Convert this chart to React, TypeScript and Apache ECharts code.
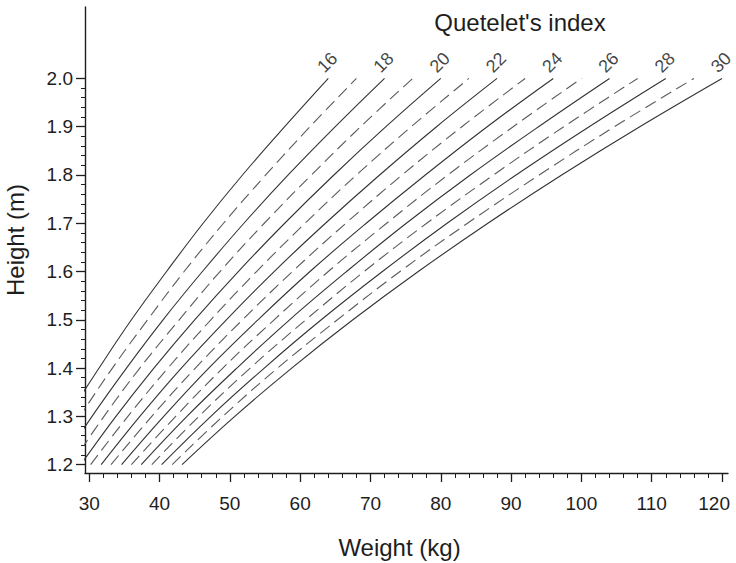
import React, { useEffect, useRef } from "react";
import * as echarts from "echarts";

// Heights (m) at which each Quetelet's-index curve is sampled
const heights = [1.2, 1.3, 1.4, 1.5, 1.6, 1.7, 1.8, 1.9, 2.0];

// Quetelet's index of each curve
const indexValues = [16, 17, 18, 19, 20, 21, 22, 23, 24, 25, 26, 27, 28, 29, 30];

// Weight (kg) of each curve at the heights above
const weightsByIndex: number[][] = [
  [23.0, 27.0, 31.4, 36.0, 41.0, 46.2, 51.8, 57.8, 64.0],
  [24.5, 28.7, 33.3, 38.3, 43.5, 49.1, 55.1, 61.4, 68.0],
  [25.9, 30.4, 35.3, 40.5, 46.1, 52.0, 58.3, 65.0, 72.0],
  [27.4, 32.1, 37.2, 42.8, 48.6, 54.9, 61.6, 68.6, 76.0],
  [28.8, 33.8, 39.2, 45.0, 51.2, 57.8, 64.8, 72.2, 80.0],
  [30.2, 35.5, 41.2, 47.3, 53.8, 60.7, 68.0, 75.8, 84.0],
  [31.7, 37.2, 43.1, 49.5, 56.3, 63.6, 71.3, 79.4, 88.0],
  [33.1, 38.9, 45.1, 51.8, 58.9, 66.5, 74.5, 83.0, 92.0],
  [34.6, 40.6, 47.0, 54.0, 61.4, 69.4, 77.8, 86.6, 96.0],
  [36.0, 42.3, 49.0, 56.3, 64.0, 72.3, 81.0, 90.3, 100.0],
  [37.4, 43.9, 51.0, 58.5, 66.6, 75.1, 84.2, 93.9, 104.0],
  [38.9, 45.6, 52.9, 60.8, 69.1, 78.0, 87.5, 97.5, 108.0],
  [40.3, 47.3, 54.9, 63.0, 71.7, 80.9, 90.7, 101.1, 112.0],
  [41.8, 49.0, 56.8, 65.3, 74.2, 83.8, 94.0, 104.7, 116.0],
  [43.2, 50.7, 58.8, 67.5, 76.8, 86.7, 97.2, 108.3, 120.0],
];

// Axis ticks and labels
const weightMajorTicks = [30, 40, 50, 60, 70, 80, 90, 100, 110, 120];
const weightMinorTicks = [
  32, 34, 36, 38, 42, 44, 46, 48, 52, 54, 56, 58, 62, 64, 66, 68, 72, 74, 76, 78,
  82, 84, 86, 88, 92, 94, 96, 98, 102, 104, 106, 108, 112, 114, 116, 118,
];
const heightMajorTicks = [1.2, 1.3, 1.4, 1.5, 1.6, 1.7, 1.8, 1.9, 2.0];
const heightMinorTicks = [
  1.22, 1.24, 1.26, 1.28, 1.32, 1.34, 1.36, 1.38, 1.42, 1.44, 1.46, 1.48,
  1.52, 1.54, 1.56, 1.58, 1.62, 1.64, 1.66, 1.68, 1.72, 1.74, 1.76, 1.78,
  1.82, 1.84, 1.86, 1.88, 1.92, 1.94, 1.96, 1.98,
];

const FONT = "'Liberation Sans', Arial, Helvetica, sans-serif";
const INK = "#1e1e1e";

const X_MIN = 29.4;
const X_MAX = 120.85;
const Y_MIN = 1.1826;
const Y_MAX = 2.148;

const GRID = { left: 85, right: 8, top: 7, bottom: 90 };
const LABEL_MARGIN_X = 21;
const LABEL_SIZE = 19;

function buildOption(): echarts.EChartsOption {
  const curveSeries = indexValues.map((q, i) => {
    const solid = q % 2 === 0;
    return {
      type: "line" as const,
      name: String(q),
      xAxisIndex: 0,
      yAxisIndex: 0,
      data: heights.map((h, j) => [weightsByIndex[i][j], h]),
      smooth: 0.4,
      showSymbol: false,
      symbol: "none",
      silent: true,
      clip: true,
      lineStyle: solid
        ? { color: "#333", width: 1.1, type: "solid" as const }
        : { color: "#5a5a5a", width: 1.1, type: [12, 6] },
      z: solid ? 3 : 2,
    };
  });

  const labelled = indexValues
    .map((q, i) => ({ q, i }))
    .filter(({ q }) => q % 2 === 0)
    .map(({ q, i }) => [
      weightsByIndex[i][heights.length - 1],
      heights[heights.length - 1],
      String(q),
    ]);

  // the last weight label sits a little inside the right edge
  const lastWeight = weightMajorTicks[weightMajorTicks.length - 1];
  const innerWeightLabels = weightMajorTicks.slice(0, -1);

  return {
    animation: false,
    backgroundColor: "#fff",
    textStyle: { fontFamily: FONT },
    grid: {
      ...GRID,
      containLabel: false,
      outerBoundsMode: "none",
    } as any,
    xAxis: [
      {
        type: "value",
        min: X_MIN,
        max: X_MAX,
        position: "bottom",
        name: "Weight (kg)",
        nameLocation: "middle",
        nameGap: 62,
        nameTextStyle: {
          fontSize: 24,
          color: INK,
          fontFamily: FONT,
          padding: [0, 14, 0, 0],
        },
        axisLine: { show: true, lineStyle: { color: INK, width: 1.4 } },
        axisTick: {
          show: true,
          inside: false,
          length: 9,
          customValues: weightMajorTicks,
          lineStyle: { color: INK, width: 1.3 },
        },
        axisLabel: {
          show: true,
          customValues: innerWeightLabels,
          margin: LABEL_MARGIN_X,
          fontSize: LABEL_SIZE,
          color: INK,
          fontFamily: FONT,
          formatter: (v: number) => String(v),
        },
        splitLine: { show: false },
      },
      {
        type: "value",
        min: X_MIN,
        max: X_MAX,
        position: "bottom",
        axisLine: { show: false },
        axisTick: {
          show: true,
          length: 5,
          customValues: weightMinorTicks,
          lineStyle: { color: INK, width: 1 },
        },
        axisLabel: { show: false },
        splitLine: { show: false },
      },
    ],
    yAxis: [
      {
        type: "value",
        min: Y_MIN,
        max: Y_MAX,
        position: "left",
        name: "Height (m)",
        nameLocation: "middle",
        nameRotate: 90,
        nameGap: 58,
        nameTextStyle: { fontSize: 24, color: INK, fontFamily: FONT },
        axisLine: { show: true, lineStyle: { color: INK, width: 1.4 } },
        axisTick: {
          show: true,
          length: 9,
          customValues: heightMajorTicks,
          lineStyle: { color: INK, width: 1.3 },
        },
        axisLabel: {
          show: true,
          customValues: heightMajorTicks,
          margin: 12,
          fontSize: LABEL_SIZE,
          color: INK,
          fontFamily: FONT,
          formatter: (v: number) => v.toFixed(1),
        },
        splitLine: { show: false },
      },
      {
        type: "value",
        min: Y_MIN,
        max: Y_MAX,
        position: "left",
        axisLine: { show: false },
        axisTick: {
          show: true,
          length: 4,
          customValues: heightMinorTicks,
          lineStyle: { color: INK, width: 1 },
        },
        axisLabel: { show: false },
        splitLine: { show: false },
      },
    ],
    graphic: [
      {
        type: "text",
        x: 520,
        y: 22,
        style: {
          text: "Quetelet's index",
          font: `24px ${FONT}`,
          fill: INK,
          textAlign: "center",
          textVerticalAlign: "middle",
          align: "center",
          verticalAlign: "middle",
        } as any,
      },
      {
        type: "text",
        right: 6,
        top: 563 - GRID.bottom + LABEL_MARGIN_X,
        style: {
          text: String(lastWeight),
          font: `${LABEL_SIZE}px ${FONT}`,
          fill: INK,
        } as any,
      },
    ],
    series: [
      ...curveSeries,
      {
        type: "scatter",
        name: "index labels",
        xAxisIndex: 0,
        yAxisIndex: 0,
        data: labelled,
        symbolSize: 1,
        itemStyle: { color: "rgba(0,0,0,0)" },
        silent: true,
        clip: false,
        z: 5,
        label: {
          show: true,
          position: "inside",
          offset: [10.6, -12.0],
          rotate: 45,
          align: "center",
          verticalAlign: "middle",
          fontSize: 18,
          color: "#111",
          fontFamily: FONT,
          formatter: (p: any) => p.data[2],
        },
      },
    ] as any,
  };
}

export default function App() {
  const ref = useRef<HTMLDivElement>(null);
  useEffect(() => {
    document.body.style.margin = "0";
    const chart = echarts.init(ref.current!, null, { renderer: "svg" });
    chart.setOption(buildOption());
    return () => chart.dispose();
  }, []);
  return <div ref={ref} style={{ width: 736, height: 563 }} />;
}
